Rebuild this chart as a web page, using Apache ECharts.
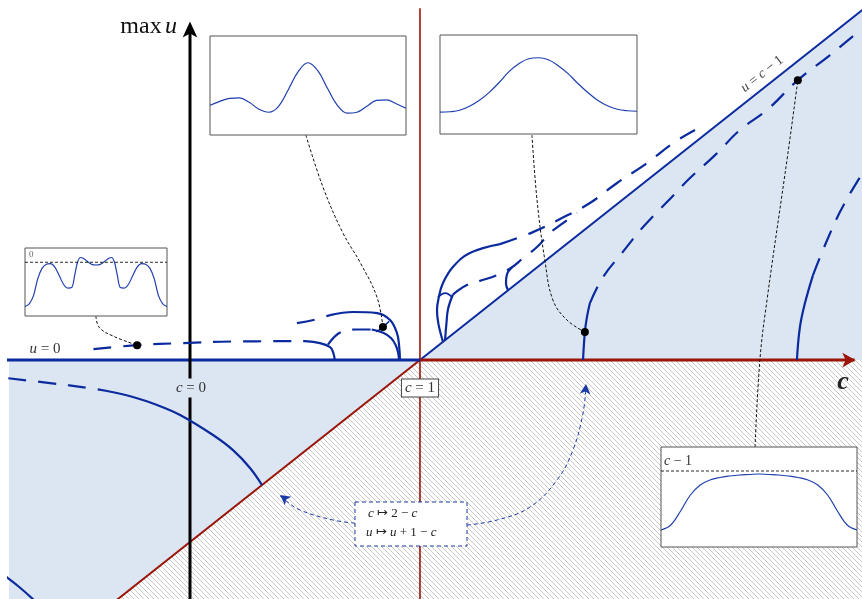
<!DOCTYPE html>
<html>
<head>
<meta charset="utf-8">
<script src="https://cdn.jsdelivr.net/npm/echarts@6/dist/echarts.min.js"></script>
<style>html,body{margin:0;padding:0;background:#fff}#chart{width:862px;height:599px}</style>
</head>
<body>
<div id="chart"></div>
<script>
// plane (c, max u)
var cRange = [-0.787, 2.922];
var uRange = [-1.313, 1.929];

var diagLow = [[-0.45, -1.45], [1, 0]];
var diagHigh = [[1, 0], [3.0, 2.0]];
var u0Left = [[-0.8, 0], [1, 0]];
var u0Right = [[1, 0], [2.89, 0]];
var lineC1 = [[1, -1.4], [1, 2.0]];
var axisC0 = [[0, -1.4], [0, 1.82]];
var fillEdge = [[-0.8, -1.8], [3.0, 2.0]];
var hatchEdge = [[-0.45, -1.45], [1, 0], [3.0, 0]];

// solution branches, left of c = 1
var lowLeftDash = [[-0.79, -0.10], [-0.6, -0.128], [-0.45, -0.152], [-0.36, -0.17]];
var lowLeftSolid = [[-0.361, -0.170], [-0.248, -0.203], [-0.143, -0.247], [-0.043, -0.302], [0.1, -0.412], [0.187, -0.495], [0.261, -0.593], [0.313, -0.687]];
var cornerSolid = [[-0.80, -1.19], [-0.74, -1.25], [-0.66, -1.34]];
var flatDash = [[-0.42, 0.06], [-0.23, 0.082], [-0.035, 0.093], [0.187, 0.102], [0.5, 0.104]];
var flatSolid = [[0.5, 0.104], [0.565, 0.093], [0.609, 0.071], [0.622, 0.044], [0.63, 0]];
var lowArcDash = [[0.6, 0.085], [0.63, 0.13], [0.66, 0.155], [0.72, 0.168], [0.79, 0.168]];
var lowArcSolid = [[0.79, 0.168], [0.84, 0.150], [0.875, 0.12], [0.895, 0.08], [0.905, 0.04], [0.909, 0]];
var upArcDash = [[0.465, 0.203], [0.543, 0.222], [0.609, 0.247]];
var upArcSolid = [[0.609, 0.247], [0.709, 0.264], [0.813, 0.258], [0.870, 0.220], [0.900, 0.148], [0.909, 0.082], [0.913, 0]];
var arcLink = [[0.81, 0.155], [0.839, 0.181], [0.866, 0.213]];

// right of c = 1
var outerSolid = [[1.1, 0.1], [1.08, 0.2], [1.074, 0.275], [1.082, 0.346], [1.1, 0.423], [1.143, 0.511], [1.217, 0.588], [1.348, 0.637]];
var outerDash = [[1.348, 0.637], [1.491, 0.703], [1.609, 0.775], [1.739, 0.863], [1.857, 0.973], [1.987, 1.082], [2.1, 1.192], [2.196, 1.264]];
var innerSolid = [[1.109, 0.109], [1.115, 0.2], [1.122, 0.28], [1.143, 0.36]];
var innerDash = [[1.143, 0.36], [1.2, 0.41], [1.26, 0.435], [1.335, 0.467], [1.4, 0.51], [1.448, 0.56], [1.509, 0.621], [1.565, 0.698], [1.622, 0.753], [1.683, 0.808]];
var hookSolid = [[1.4, 0.51], [1.378, 0.47], [1.374, 0.42], [1.383, 0.383]];
var arcLinkRight = [[1.078, 0.346], [1.11, 0.368], [1.14, 0.345]];
var midSolid = [[1.709, 0], [1.717, 0.154], [1.726, 0.236], [1.739, 0.313]];
var midDash = [[1.739, 0.313], [1.796, 0.456], [1.878, 0.588], [1.970, 0.731], [2.074, 0.868], [2.174, 1.0], [2.283, 1.126], [2.391, 1.264], [2.509, 1.374], [2.643, 1.538], [2.783, 1.676], [2.904, 1.802], [2.96, 1.86]];
var farSolid = [[2.639, 0], [2.652, 0.181], [2.674, 0.313], [2.709, 0.467]];
var farDash = [[2.709, 0.467], [2.765, 0.643], [2.826, 0.813], [2.9, 0.978], [2.94, 1.05]];

// marked points and leaders to the insets
var dotPts = [[-0.23, 0.082], [0.839, 0.181], [1.717, 0.154], [2.643, 1.538]];
var leadC = [[-0.409, 0.242], [-0.395, 0.18], [-0.335, 0.132], [-0.23, 0.082]];
var leadA = [[0.504, 1.236], [0.578, 0.951], [0.665, 0.698], [0.739, 0.538], [0.813, 0.346], [0.839, 0.181]];
var leadB = [[1.487, 1.236], [1.509, 0.879], [1.543, 0.549], [1.578, 0.33], [1.639, 0.22], [1.717, 0.154]];
var leadD = [[2.457, -0.478], [2.478, 0], [2.509, 0.330], [2.6, 1.137], [2.643, 1.538]];

// reflection arrows
var arrowLeft = [[0.717, -0.896], [0.622, -0.879], [0.478, -0.824], [0.413, -0.769], [0.39, -0.745]];
var arrowRight = [[1.204, -0.907], [1.335, -0.879], [1.478, -0.808], [1.596, -0.659], [1.665, -0.495], [1.709, -0.291], [1.722, -0.14]];
var arrowHeads = [[0.392, -0.742, 53], [1.722, -0.132, -5]];

// insets (x and height in % of the box)
var pct5 = [0,5,10,15,20,25,30,35,40,45,50,55,60,65,70,75,80,85,90,95,100];
var insetA = [30,34,37,37.5,33,26,23,29,46,64,73,65,47,30,22,23,29,35,35.5,31.5,27];
var insetB = [22,22.5,24,28,34,42,52,63,71,76,77,75,69,61,51,42,34,28.5,25,23.5,23];
var insetCx = [0,3,6,9,12,15,18,21,24,27,30,33,35,37,39,41,44,47,50,53,56,59,61,63,65,67,70,73,76,79,82,85,88,91,94,97,100];
var insetCy = [14,18,30,55,70,76,77,72,60,47,41,42,60,79,86,85,80,76,75,76,80,85,86,79,60,42,41,47,60,72,77,76,70,55,30,18,14];
var insetCzero = 79;
var insetD = [17,22,36,52,62,67,69.5,71,72,72.5,73,72.5,72,71,69.5,67,62,52,36,22,17];
var insetDlevel = 76;

var BLUE = '#0a2a9e', RED = '#9a1408', FILL = '#dce6f2';

function zip(xs, ys) { return xs.map(function (x, i) { return [x, ys[i]]; }); }

var hatch = document.createElement('canvas');
hatch.width = 5; hatch.height = 5;
var g = hatch.getContext('2d');
g.fillStyle = '#fff'; g.fillRect(0, 0, 5, 5);
g.strokeStyle = '#b0b0b0'; g.lineWidth = 0.7;
g.beginPath();
g.moveTo(0, 0); g.lineTo(5, 5);
g.moveTo(-1, 4); g.lineTo(1, 6);
g.moveTo(4, -1); g.lineTo(6, 1);
g.stroke();

function curve(data, opt) {
    return {
        type: 'line', data: data, symbol: 'none', smooth: opt.smooth === undefined ? 0.4 : opt.smooth,
        xAxisIndex: opt.grid || 0, yAxisIndex: opt.grid || 0, z: opt.z || 4, silent: true,
        lineStyle: { color: opt.color || BLUE, width: opt.width || 2.2, type: opt.type || 'solid', cap: 'butt' }
    };
}
var DASH = [18, 12];

var myChart = echarts.init(document.getElementById('chart'));
var hiddenAxis = function (idx, min, max) { return { type: 'value', gridIndex: idx, min: min, max: max, show: false }; };

var option = {
    backgroundColor: '#fff',
    animation: false,
    grid: [
        { left: 9, top: 9, right: 0, bottom: 0 },
        { left: 210, top: 36, width: 196, height: 99, show: true, backgroundColor: '#fff', borderColor: '#555', borderWidth: 1, z: 10 },
        { left: 440, top: 35, width: 197, height: 99, show: true, backgroundColor: '#fff', borderColor: '#555', borderWidth: 1, z: 10 },
        { left: 25, top: 248, width: 142, height: 68, show: true, backgroundColor: '#fff', borderColor: '#555', borderWidth: 1, z: 10 },
        { left: 661, top: 447, width: 196, height: 100, show: true, backgroundColor: '#fff', borderColor: '#555', borderWidth: 1, z: 10 }
    ],
    xAxis: [hiddenAxis(0, cRange[0], cRange[1]), hiddenAxis(1, 0, 100), hiddenAxis(2, 0, 100), hiddenAxis(3, 0, 100), hiddenAxis(4, 0, 100)],
    yAxis: [hiddenAxis(0, uRange[0], uRange[1]), hiddenAxis(1, 0, 100), hiddenAxis(2, 0, 100), hiddenAxis(3, 0, 100), hiddenAxis(4, 0, 100)],
    series: [
        { type: 'line', data: fillEdge, symbol: 'none', silent: true, z: 1, lineStyle: { width: 0 }, areaStyle: { color: FILL, opacity: 1, origin: 0 } },
        { type: 'line', data: hatchEdge, symbol: 'none', silent: true, z: 1, lineStyle: { width: 0 }, areaStyle: { color: { image: hatch, repeat: 'repeat' }, opacity: 1, origin: 'start' } },
        curve(lineC1, { color: RED, width: 1.6, smooth: false, z: 3 }),
        curve(diagLow, { color: RED, width: 2, smooth: false, z: 3 }),
        curve(diagHigh, { color: BLUE, width: 2, smooth: false, z: 3 }),
        curve(u0Right, { color: RED, width: 3, smooth: false, z: 3 }),
        curve(u0Left, { color: BLUE, width: 3, smooth: false, z: 3 }),
        curve(axisC0, { color: '#000', width: 3, smooth: false, z: 3 }),
        { type: 'scatter', data: [[2.893, 0, -90]], symbol: 'arrow', symbolSize: [11, 13], symbolRotate: function (v) { return v[2]; }, itemStyle: { color: RED, opacity: 1 }, silent: true, z: 3 },
        { type: 'scatter', data: [[0, 1.86, 0]], symbol: 'arrow', symbolSize: [11, 16], itemStyle: { color: '#000', opacity: 1 }, silent: true, z: 3 },

        curve(lowLeftDash, { type: DASH }),
        curve(lowLeftSolid, {}),
        curve(cornerSolid, {}),
        curve(flatDash, { type: DASH }),
        curve(flatSolid, {}),
        curve(lowArcDash, { type: DASH }),
        curve(lowArcSolid, {}),
        curve(upArcDash, { type: DASH }),
        curve(upArcSolid, {}),
        curve(arcLink, { width: 1.6 }),
        curve(outerSolid, {}),
        curve(outerDash, { type: DASH }),
        curve(innerSolid, {}),
        curve(innerDash, { type: DASH }),
        curve(hookSolid, {}),
        curve(arcLinkRight, { width: 1.6 }),
        curve(midSolid, {}),
        curve(midDash, { type: DASH }),
        curve(farSolid, {}),
        curve(farDash, { type: DASH }),

        curve(leadC, { color: '#111', width: 1, type: [3, 2] , z: 5}),
        curve(leadA, { color: '#111', width: 1, type: [3, 2] , z: 5}),
        curve(leadB, { color: '#111', width: 1, type: [3, 2] , z: 5}),
        curve(leadD, { color: '#111', width: 1, type: [3, 2] , z: 5}),
        curve(arrowLeft, { color: '#1a3aa8', width: 1, type: [4, 3], z: 5 }),
        curve(arrowRight, { color: '#1a3aa8', width: 1, type: [4, 3], z: 5 }),
        { type: 'scatter', data: arrowHeads, symbol: 'arrow', symbolSize: [8, 10], symbolRotate: function (v) { return v[2]; }, itemStyle: { color: '#1a3aa8', opacity: 1 }, silent: true, z: 6 },
        { type: 'scatter', data: dotPts, symbol: 'circle', symbolSize: 8, itemStyle: { color: '#000', opacity: 1 }, silent: true, z: 6 },

        curve(zip(pct5, insetA), { grid: 1, width: 1.2, color: '#1f3fae', z: 12 }),
        curve(zip(pct5, insetB), { grid: 2, width: 1.2, color: '#1f3fae', z: 12 }),
        curve(zip(insetCx, insetCy), { grid: 3, width: 1.2, color: '#1f3fae', z: 12, smooth: 0.3 }),
        curve([[0, insetCzero], [100, insetCzero]], { grid: 3, width: 0.9, color: '#111', type: [3, 2], smooth: false, z: 12 }),
        curve(zip(pct5, insetD), { grid: 4, width: 1.2, color: '#1f3fae', z: 12 }),
        curve([[0, insetDlevel], [100, insetDlevel]], { grid: 4, width: 0.9, color: '#111', type: [3, 2], smooth: false, z: 12 })
    ],
    graphic: [
        { type: 'text', x: 177, y: 27, z: 100, style: { text: '{a|max} {b|u}', align: 'right', verticalAlign: 'middle', fill: '#111',
            rich: { a: { fontSize: 24, fontFamily: 'Liberation Serif' }, b: { fontSize: 24, fontFamily: 'Liberation Serif', fontStyle: 'italic' } } } },
        { type: 'text', x: 843, y: 382, z: 100, style: { text: 'c', align: 'center', verticalAlign: 'middle', fill: '#222', fontSize: 26, fontFamily: 'Liberation Serif', fontStyle: 'italic', fontWeight: 'bold' } },
        { type: 'text', x: 191, y: 388, z: 100, style: { text: '{i|c} = 0', align: 'center', verticalAlign: 'middle', fill: '#333', fontSize: 15, fontFamily: 'Liberation Serif',
            backgroundColor: FILL, padding: [2, 3], rich: { i: { fontSize: 15, fontFamily: 'Liberation Serif', fontStyle: 'italic' } } } },
        { type: 'text', x: 420, y: 388, z: 100, style: { text: '{i|c} = 1', align: 'center', verticalAlign: 'middle', fill: '#333', fontSize: 15, fontFamily: 'Liberation Serif',
            backgroundColor: '#fff', borderColor: '#444', borderWidth: 1, padding: [1, 3], rich: { i: { fontSize: 15, fontFamily: 'Liberation Serif', fontStyle: 'italic' } } } },
        { type: 'text', x: 45, y: 349, z: 100, style: { text: '{i|u} = 0', align: 'center', verticalAlign: 'middle', fill: '#333', fontSize: 15, fontFamily: 'Liberation Serif',
            rich: { i: { fontSize: 15, fontFamily: 'Liberation Serif', fontStyle: 'italic' } } } },
        { type: 'text', x: 762, y: 74, rotation: 0.67, z: 100, style: { text: '{i|u} = {i|c} − 1', align: 'center', verticalAlign: 'middle', fill: '#444', fontSize: 14, fontFamily: 'Liberation Serif',
            rich: { i: { fontSize: 14, fontFamily: 'Liberation Serif', fontStyle: 'italic' } } } },
        { type: 'rect', z: 50, shape: { x: 355, y: 502, width: 112, height: 44 }, style: { fill: '#fff', stroke: '#1a3aa8', lineWidth: 1, lineDash: [4, 3] } },
        { type: 'text', x: 368, y: 514, z: 100, style: { text: '{i|c} ↦ 2 − {i|c}', align: 'left', verticalAlign: 'middle', fill: '#222', fontSize: 13, fontFamily: 'Liberation Serif',
            rich: { i: { fontSize: 13, fontFamily: 'Liberation Serif', fontStyle: 'italic' } } } },
        { type: 'text', x: 366, y: 533, z: 100, style: { text: '{i|u} ↦ {i|u} + 1 − {i|c}', align: 'left', verticalAlign: 'middle', fill: '#222', fontSize: 13, fontFamily: 'Liberation Serif',
            rich: { i: { fontSize: 13, fontFamily: 'Liberation Serif', fontStyle: 'italic' } } } },
        { type: 'text', x: 29, y: 255, z: 100, style: { text: '0', align: 'left', verticalAlign: 'middle', fill: '#666', fontSize: 9, fontFamily: 'Liberation Serif' } },
        { type: 'text', x: 664, y: 461, z: 100, style: { text: '{i|c} − 1', align: 'left', verticalAlign: 'middle', fill: '#333', fontSize: 14, fontFamily: 'Liberation Serif',
            rich: { i: { fontSize: 14, fontFamily: 'Liberation Serif', fontStyle: 'italic' } } } }
    ]
};
myChart.setOption(option);
</script>
</body>
</html>
